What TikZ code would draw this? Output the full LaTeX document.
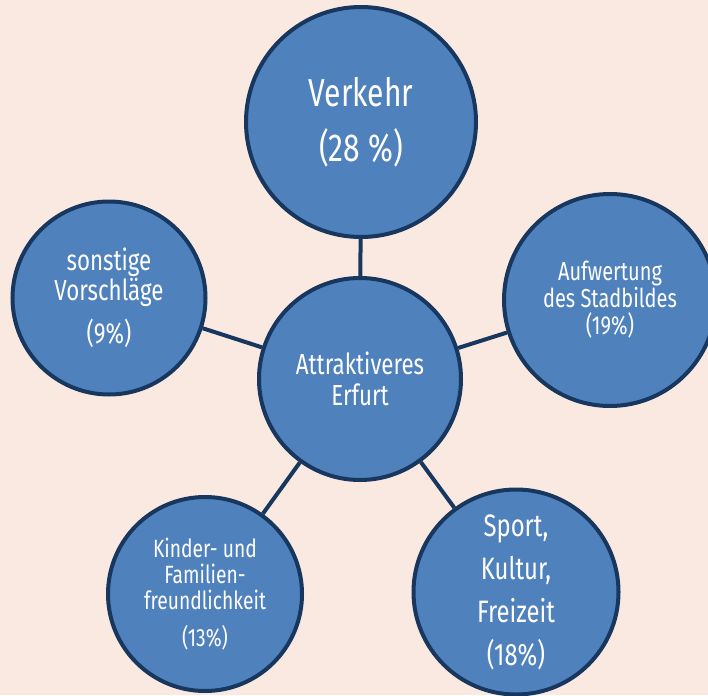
\documentclass[tikz,border=0pt]{standalone}
\usepackage{fontspec}
\setmainfont{Fira Sans}[FakeStretch=0.77]
\usetikzlibrary{positioning}

\definecolor{bgpink}{RGB}{250,233,225}
\definecolor{boxblue}{RGB}{79,129,189}
\definecolor{navy}{RGB}{23,55,94}

\tikzset{
  topic/.style={circle, draw=navy, fill=boxblue, line width=4pt, text=white, align=center, inner sep=0pt},
  link/.style={draw=navy, line width=4pt}
}

\begin{document}
\begin{tikzpicture}[x=1pt,y=-1pt]
\useasboundingbox (0,0) rectangle (708,695);
\clip (0,0) rectangle (708,695);
\fill[bgpink] (0,0) rectangle (708,695);
% Mitte
\node[topic, minimum size=202pt, font=\fontsize{29}{31}\selectfont] (Erfurt) at (360,379) {Attraktiveres\\Erfurt};
% Themen
\node[topic, minimum size=230pt, font=\fontsize{39}{55}\selectfont] (Verkehr) at (361,122) {Verkehr\\(28 \%)};
\node[topic, minimum size=193pt, font=\fontsize{29}{28}\selectfont] (Sonst) at (109,298) {sonstige\\Vorschläge\\[12pt](9\%)};
\node[topic, minimum size=212pt, font=\fontsize{26}{27}\selectfont] (Stadt) at (610,300) {Aufwertung\\des Stadbildes\\(19\%)};
\node[topic, minimum size=194pt, font=\fontsize{25}{26}\selectfont] (Kinder) at (205,594) {Kinder- und\\Familien-\\freundlichkeit\\[11pt](13\%)};
\node[topic, minimum size=205pt, font=\fontsize{31}{43}\selectfont] (Sport) at (516,592) {Sport,\\Kultur,\\Freizeit\\(18\%)};
% Verbindungen
\draw[link] (Erfurt) -- (Verkehr);
\draw[link] (Erfurt) -- (Sonst);
\draw[link] (Erfurt) -- (Stadt);
\draw[link] (Erfurt) -- (Kinder);
\draw[link] (Erfurt) -- (Sport);
\end{tikzpicture}
\end{document}
